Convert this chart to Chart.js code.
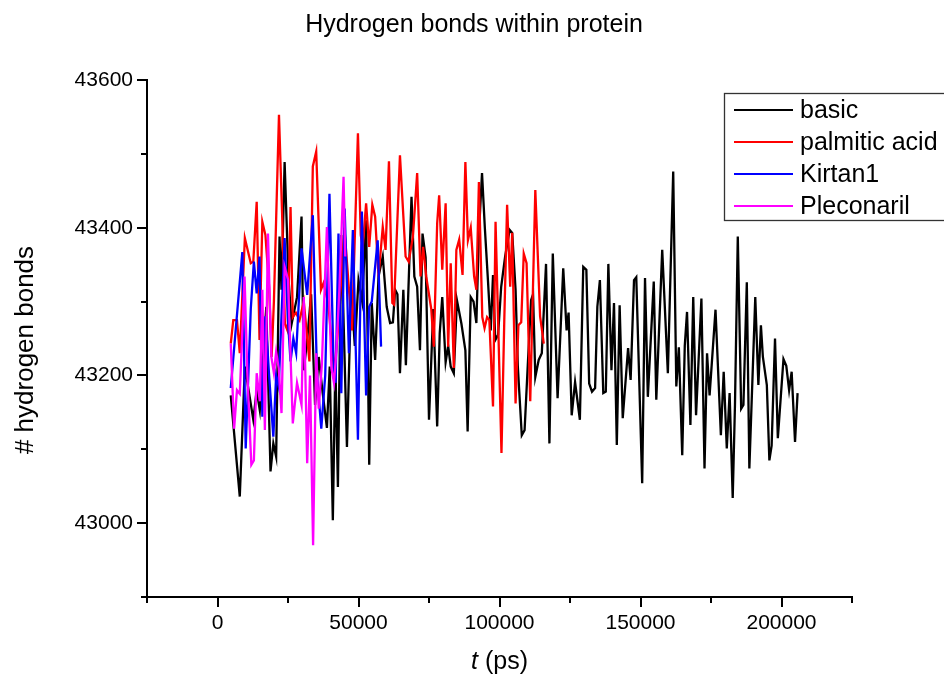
<!DOCTYPE html>
<html>
<head>
<meta charset="utf-8">
<script src="https://cdn.jsdelivr.net/npm/chart.js@4.4.1/dist/chart.umd.min.js"></script>
<style>
html,body{margin:0;padding:0;background:#fff;}
canvas{display:block;}
</style>
</head>
<body>
<canvas id="c" width="944" height="677"></canvas>
<script>
// ---- data (t in ps, value = # hydrogen bonds) ----
const seriesNames = ["basic", "palmitic acid", "Kirtan1", "Pleconaril"];
const seriesColors = ["#000000", "#FF0000", "#0000FF", "#FF00FF"];

const basicT = [4700,7900,9700,12700,13900,15000,17300,18800,19800,20800,22000,22700,23800,25200,26300,28200,29800,30600,31800,33200,34600,35900,37300,38800,39800,40900,41800,42700,43900,45900,47400,48700,50000,51300,52700,53800,54700,55900,57100,58600,60000,61200,62200,63000,63800,64700,65900,66800,68800,69800,70800,71800,72700,73800,75000,76500,77900,78800,79700,80900,81800,82700,83800,84900,86500,87900,88700,89800,90800,91800,92700,93800,94800,95900,96900,97700,98500,99500,100600,102000,103600,104500,105700,106500,107900,108900,110000,111200,111900,112700,113900,115000,116500,117700,118900,120600,122600,123800,124500,125600,126800,128500,129700,130800,131800,132800,133900,134700,135600,136800,137700,138600,139700,140600,141600,142600,143700,145600,146500,147700,148500,150600,151600,152600,154700,155600,157700,159700,161600,162700,163600,164800,165700,166500,167700,168700,169700,171600,172700,173600,174500,176600,178500,179500,180600,181600,182700,183500,184500,185700,186500,187700,188600,190700,191800,192700,193400,194800,195700,196500,197700,198700,200700,201700,202700,203600,204800,205700];
const basicV = [43173,43036,43212,43140,43180,43153,43293,43070,43108,43090,43388,43316,43489,43330,43270,43306,43415,43207,43248,43310,43160,43225,43176,43129,43212,43004,43217,43049,43390,43103,43316,43240,43329,43300,43410,43079,43298,43221,43334,43361,43293,43271,43272,43316,43310,43203,43316,43214,43442,43334,43320,43234,43392,43360,43140,43290,43131,43257,43306,43218,43240,43212,43203,43302,43270,43234,43124,43306,43300,43271,43392,43474,43400,43329,43261,43336,43248,43255,43320,43361,43397,43393,43316,43212,43119,43126,43212,43302,43310,43198,43221,43230,43351,43108,43365,43169,43345,43261,43285,43146,43191,43140,43347,43343,43189,43178,43183,43293,43329,43176,43178,43351,43207,43298,43106,43295,43142,43237,43194,43329,43333,43054,43332,43171,43327,43167,43370,43203,43476,43185,43238,43092,43240,43286,43133,43306,43146,43304,43074,43230,43173,43289,43119,43205,43101,43176,43034,43160,43388,43155,43160,43326,43074,43306,43187,43268,43225,43187,43085,43105,43250,43115,43222,43213,43180,43205,43110,43176];

const palmT = [4700,5600,6900,7900,9700,11800,12700,13900,14900,15900,17000,18300,19200,20000,21800,22900,23900,24900,25900,26700,27800,29100,30600,32600,33800,35000,36700,37600,39300,41400,42900,45000,47700,49800,50800,51500,52700,53800,54900,55900,57100,58600,59600,60800,62000,62600,64700,66700,67800,69300,70800,72000,72900,74000,75800,76700,77900,78600,79700,80900,81800,82700,83800,84700,85700,86900,87900,88800,89800,91000,91800,92700,93900,94700,95600,96400,97700,98600,99600,100700,101700,102700,103800,104500,105700,106700,107700,108600,109600,110900,112700,114400,115700];
const palmV = [43243,43275,43275,43230,43386,43352,43354,43435,43248,43408,43390,43320,43225,43300,43553,43420,43270,43260,43428,43279,43285,43275,43300,43219,43483,43503,43316,43325,43297,43203,43270,43400,43261,43528,43390,43374,43433,43374,43431,43415,43334,43401,43370,43490,43298,43296,43498,43361,43354,43388,43474,43334,43374,43334,43290,43239,43406,43444,43343,43433,43239,43352,43210,43370,43384,43336,43489,43383,43400,43334,43316,43462,43279,43264,43279,43275,43158,43408,43260,43095,43275,43431,43320,43393,43162,43268,43272,43365,43352,43165,43451,43280,43243];

const kirtanT = [4700,8800,10000,11800,12900,13900,14900,15900,17000,18300,19800,20800,21700,23800,24900,25900,26900,27900,29800,31800,33800,35300,36800,38200,39700,41200,41900,42900,43900,45100,46600,48000,49800,51200,51900,52700,53800,54700,56800,58000];
const kirtanV = [43183,43367,43101,43290,43354,43311,43361,43144,43280,43200,43117,43200,43185,43386,43280,43219,43250,43230,43372,43309,43417,43200,43128,43200,43446,43210,43190,43392,43176,43426,43230,43397,43113,43422,43300,43173,43293,43300,43383,43239];

const plecT = [4700,5900,6900,7900,9600,10600,12000,12900,13900,15000,15900,16800,17900,19100,20000,20800,21700,22700,23800,25000,26700,28200,29800,30600,31800,32800,33900,35000,35900,37000,38800,40400,41300,42100,43200,44700,45300];
const plecV = [43243,43128,43180,43175,43334,43200,43079,43085,43203,43165,43316,43126,43392,43225,43203,43232,43210,43149,43347,43330,43135,43190,43160,43306,43081,43200,42970,43230,43155,43215,43401,43210,43190,43230,43315,43469,43361];

const xMajorTicks = [0, 50000, 100000, 150000, 200000];
const xMinorTicks = [-25000, 25000, 75000, 125000, 175000, 225000];
const yMajorTicks = [43000, 43200, 43400, 43600];
const yMinorTicks = [42900, 43100, 43300, 43500];

const titleText = "Hydrogen bonds within protein";
const yTitleText = "# hydrogen bonds";

function pts(t, v) { return t.map((x, i) => ({x: x, y: v[i]})); }
const allT = [basicT, palmT, kirtanT, plecT];
const allV = [basicV, palmV, kirtanV, plecV];

const FONT = '"Liberation Sans", Arial, sans-serif';

const datasets = seriesNames.map((n, i) => ({
  label: n,
  data: pts(allT[i], allV[i]),
  borderColor: seriesColors[i],
  backgroundColor: seriesColors[i],
  borderWidth: 2.3,
  pointRadius: 0,
  tension: 0,
  fill: false,
  order: 4 - i
}));

const decor = {
  id: 'decor',
  afterDraw(chart) {
    const ctx = chart.ctx;
    const xs = chart.scales.x, ys = chart.scales.y;
    const area = chart.chartArea;
    ctx.save();
    // minor ticks
    ctx.strokeStyle = '#000';
    ctx.lineWidth = 2;
    ctx.beginPath();
    xMinorTicks.forEach(v => {
      const px = Math.round(xs.getPixelForValue(v));
      ctx.moveTo(px, area.bottom);
      ctx.lineTo(px, area.bottom + 6);
    });
    yMinorTicks.forEach(v => {
      const py = Math.round(ys.getPixelForValue(v));
      ctx.moveTo(area.left, py);
      ctx.lineTo(area.left - 6, py);
    });
    ctx.stroke();

    // title
    ctx.fillStyle = '#000';
    ctx.font = '25px ' + FONT;
    ctx.textAlign = 'center';
    ctx.textBaseline = 'middle';
    ctx.fillText(titleText, 474, 25);

    // y title
    ctx.save();
    ctx.translate(26, 350);
    ctx.rotate(-Math.PI / 2);
    ctx.font = '26px ' + FONT;
    ctx.fillText(yTitleText, 0, 0);
    ctx.restore();

    // x title: italic t + " (ps)"
    const cx = (area.left + area.right) / 2;
    ctx.textAlign = 'left';
    ctx.font = 'italic 25px ' + FONT;
    const w1 = ctx.measureText('t').width;
    ctx.font = '25px ' + FONT;
    const w2 = ctx.measureText(' (ps)').width;
    const x0 = cx - (w1 + w2) / 2;
    ctx.font = 'italic 25px ' + FONT;
    ctx.fillText('t', x0, 662);
    ctx.font = '25px ' + FONT;
    ctx.fillText(' (ps)', x0 + w1, 662);

    // legend
    const lx = 724, ly = 93, lw = 240, lh = 127;
    ctx.fillStyle = '#fff';
    ctx.fillRect(lx, ly, lw, lh);
    ctx.strokeStyle = '#333';
    ctx.lineWidth = 1.3;
    ctx.strokeRect(lx + 0.5, ly + 0.5, lw, lh);
    const rows = [110, 142, 174, 206];
    chart.data.datasets.forEach((ds, i) => {
      ctx.strokeStyle = ds.borderColor;
      ctx.lineWidth = 2;
      ctx.beginPath();
      ctx.moveTo(734, rows[i]);
      ctx.lineTo(793, rows[i]);
      ctx.stroke();
      ctx.fillStyle = '#000';
      ctx.font = '25px ' + FONT;
      ctx.textAlign = 'left';
      ctx.textBaseline = 'middle';
      ctx.fillText(ds.label, 800, rows[i] + 1);
    });
    ctx.restore();
  }
};

new Chart(document.getElementById('c'), {
  type: 'line',
  data: { datasets: datasets },
  options: {
    responsive: false,
    animation: false,
    devicePixelRatio: 1,
    layout: { padding: { left: 0, top: 80, right: 92, bottom: 0 } },
    plugins: { legend: { display: false }, title: { display: false }, tooltip: { enabled: false } },
    scales: {
      x: {
        type: 'linear',
        min: -25000, max: 225000,
        afterBuildTicks: s => { s.ticks = xMajorTicks.map(v => ({value: v})); },
        afterFit: s => { s.height = 80; },
        grid: { display: true, drawOnChartArea: false, drawTicks: true, tickLength: 10, color: '#000', lineWidth: 2 },
        border: { display: true, color: '#000', width: 2 },
        ticks: { color: '#000', font: { family: FONT, size: 21 }, padding: 4, maxRotation: 0, autoSkip: false, callback: v => String(v) }
      },
      y: {
        type: 'linear',
        min: 42900, max: 43600,
        afterBuildTicks: s => { s.ticks = yMajorTicks.map(v => ({value: v})); },
        afterFit: s => { s.width = 147; },
        grid: { display: true, drawOnChartArea: false, drawTicks: true, tickLength: 10, color: '#000', lineWidth: 2 },
        border: { display: true, color: '#000', width: 2 },
        ticks: { color: '#000', font: { family: FONT, size: 21 }, padding: 4, autoSkip: false, callback: v => String(v) }
      }
    }
  },
  plugins: [decor]
});
</script>
</body>
</html>
